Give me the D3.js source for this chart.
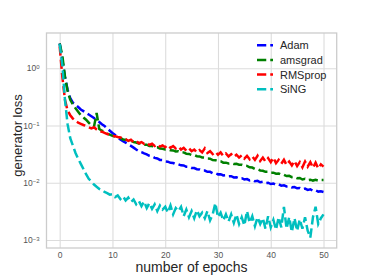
<!DOCTYPE html>
<html>
<head>
<meta charset="utf-8">
<script src="https://cdn.jsdelivr.net/npm/d3@7"></script>
<style>
  html, body { margin: 0; padding: 0; background: #fff; }
  svg { display: block; font-family: "Liberation Sans", Arial, sans-serif; }
</style>
</head>
<body>
<svg id="chart" width="374" height="280"></svg>
<script>
// ---- data ----
const epochs = d3.range(0, 50.001, 0.5);
const seriesNames = ["Adam", "amsgrad", "RMSprop", "SiNG"];
const seriesColors = ["#0000ff", "#008000", "#ff0000", "#00bfbf"];

const adam = [
  2.70, 1.40, 0.71, 0.42, 0.30, 0.25, 0.23, 0.21, 0.19, 0.178,
  0.166, 0.155, 0.145, 0.135, 0.123, 0.115, 0.105, 0.098, 0.089, 0.081,
  0.074, 0.068, 0.062, 0.057, 0.053, 0.050, 0.047, 0.044, 0.041, 0.038,
  0.0355, 0.0343, 0.0325, 0.0313, 0.0295, 0.0288, 0.0272, 0.0265, 0.0250, 0.0248,
  0.0235, 0.0233, 0.0223, 0.0221, 0.0210, 0.0209, 0.0201, 0.0200, 0.0190, 0.0189,
  0.0181, 0.0180, 0.0172, 0.0171, 0.0163, 0.0163, 0.0155, 0.0155, 0.0147, 0.0148,
  0.0140, 0.0141, 0.0134, 0.0135, 0.0129, 0.0130, 0.0124, 0.0125, 0.0119, 0.0120,
  0.0114, 0.0116, 0.0110, 0.0112, 0.0106, 0.0108, 0.0102, 0.0104, 0.0099, 0.0100,
  0.0095, 0.0097, 0.0092, 0.0094, 0.0089, 0.0090, 0.0086, 0.0087, 0.0083, 0.0084,
  0.0080, 0.0081, 0.0077, 0.0079, 0.0075, 0.0077, 0.0072, 0.0074, 0.0070, 0.0071,
  0.0069
];
const amsgrad = [
  2.70, 1.66, 0.71, 0.40, 0.28, 0.234, 0.20, 0.174, 0.151, 0.138,
  0.126, 0.112, 0.100, 0.095, 0.165, 0.087, 0.081, 0.078, 0.072, 0.069,
  0.066, 0.064, 0.0610, 0.0605, 0.0570, 0.0565, 0.0545, 0.0540, 0.0515, 0.0505,
  0.0485, 0.0484, 0.0462, 0.0462, 0.0438, 0.0437, 0.0418, 0.0416, 0.0395, 0.0393,
  0.0380, 0.0380, 0.0368, 0.0367, 0.0352, 0.0354, 0.0340, 0.0338, 0.0322, 0.0319,
  0.0306, 0.0305, 0.0290, 0.0288, 0.0277, 0.0275, 0.0264, 0.0263, 0.0249, 0.0248,
  0.0238, 0.0237, 0.0224, 0.0224, 0.0217, 0.0219, 0.0212, 0.0214, 0.0207, 0.0206,
  0.0198, 0.0197, 0.0186, 0.0184, 0.0174, 0.0172, 0.0164, 0.0162, 0.0155, 0.0155,
  0.0149, 0.0150, 0.0144, 0.0145, 0.0138, 0.0138, 0.0131, 0.0132, 0.0125, 0.0126,
  0.0120, 0.0121, 0.0114, 0.0117, 0.0111, 0.0113, 0.0109, 0.0112, 0.0109, 0.0112,
  0.0112
];
const rmsprop = [
  2.40, 0.71, 0.28, 0.182, 0.151, 0.132, 0.120, 0.112, 0.107, 0.102,
  0.098, 0.093, 0.089, 0.093, 0.085, 0.079, 0.078, 0.074, 0.071, 0.069,
  0.066, 0.0646, 0.063, 0.0617, 0.060, 0.0575, 0.0537, 0.0562, 0.0513, 0.0537,
  0.0490, 0.0513, 0.0479, 0.0501, 0.0457, 0.0479, 0.0437, 0.0468, 0.0427, 0.0447,
  0.0417, 0.0457, 0.0407, 0.0437, 0.0398, 0.0427, 0.0380, 0.0407, 0.0363, 0.0398,
  0.0355, 0.0380, 0.0339, 0.0372, 0.0339, 0.0398, 0.0331, 0.0355, 0.0316, 0.0347,
  0.0309, 0.0339, 0.0295, 0.0324, 0.0288, 0.0316, 0.0282, 0.0309, 0.0275, 0.0302,
  0.0263, 0.0295, 0.0257, 0.0288, 0.0251, 0.0295, 0.0240, 0.0275, 0.0234, 0.0269,
  0.0229, 0.0275, 0.0219, 0.0251, 0.0214, 0.0251, 0.0204, 0.0234, 0.0200, 0.0240,
  0.0195, 0.0229, 0.0186, 0.0234, 0.0191, 0.0229, 0.0182, 0.0224, 0.0178, 0.0209,
  0.0191
];
const sing = [
  2.63, 1.12, 0.28, 0.105, 0.060, 0.0447, 0.0331, 0.0263, 0.0214, 0.0174,
  0.0141, 0.0117, 0.0105, 0.0093, 0.0085, 0.0078, 0.0074, 0.0069, 0.0066, 0.0062,
  0.0063, 0.0056, 0.0060, 0.0052, 0.0058, 0.0049, 0.0055, 0.0046, 0.0051, 0.0042,
  0.0048, 0.0039, 0.0047, 0.0036, 0.0044, 0.0035, 0.0042, 0.0032, 0.0040, 0.0034,
  0.0038, 0.0030, 0.0040, 0.0028, 0.0036, 0.0032, 0.0038, 0.0026, 0.0034, 0.0025,
  0.0032, 0.0024, 0.0033, 0.0026, 0.0030, 0.0024, 0.0032, 0.0022, 0.0028, 0.0044,
  0.0025, 0.0030, 0.0022, 0.0028, 0.0021, 0.0028, 0.0020, 0.0028, 0.0019, 0.0025,
  0.0018, 0.0032, 0.0020, 0.0026, 0.00174, 0.0025, 0.0019, 0.0024, 0.00158, 0.0026,
  0.00166, 0.00224, 0.00151, 0.0025, 0.00166, 0.0038, 0.00158, 0.0025, 0.00138, 0.0024,
  0.00145, 0.0023, 0.00158, 0.0025, 0.00145, 0.0011, 0.0025, 0.0038, 0.0019, 0.0024,
  0.0028
];
const xTicks = [0, 10, 20, 30, 40, 50];
const yTicks = [1, 0.1, 0.01, 0.001];
const yTickExponents = ["0", "\u22121", "\u22122", "\u22123"];
const xLabel = "number of epochs";
const yLabel = "generator loss";

// ---- layout ----
const svg = d3.select("#chart");
const L = 46.5, R = 336.7, T = 33, B = 248;

const x = d3.scaleLinear().domain([-2.5, 52.5]).range([L, R]);
const y = d3.scaleLog().domain([Math.pow(10, -3.14), Math.pow(10, 0.615)]).range([B, T]);

const gridColor = "#dcdcdc";
const tickTextColor = "#555";

// x axis with gridlines
const gx = svg.append("g")
  .attr("transform", `translate(0,${B})`)
  .call(d3.axisBottom(x).tickValues(xTicks).tickSize(-(B - T)).tickPadding(4).tickFormat(d3.format("d")));
gx.select(".domain").remove();
gx.selectAll(".tick line").attr("stroke", gridColor).attr("stroke-width", 1.1);
gx.selectAll(".tick text").attr("fill", tickTextColor).style("font-size", "8.5px")
  .style("font-family", "'Liberation Sans', Arial, sans-serif");

// y axis with gridlines
const gy = svg.append("g")
  .attr("transform", `translate(${L},0)`)
  .call(d3.axisLeft(y).tickValues(yTicks).tickSize(-(R - L)).tickPadding(7).tickFormat(() => ""));
gy.select(".domain").remove();
gy.selectAll(".tick line").attr("stroke", gridColor).attr("stroke-width", 1.1);
gy.selectAll(".tick text").each(function(d, i) {
  const t = d3.select(this)
    .attr("fill", tickTextColor).style("font-size", "8.5px")
    .style("font-family", "'Liberation Sans', Arial, sans-serif");
  t.append("tspan").text("10");
  t.append("tspan").text(yTickExponents[i]).attr("dy", "-0.45em").style("font-size", "6px");
});

// frame
svg.append("rect")
  .attr("x", L).attr("y", T).attr("width", R - L).attr("height", B - T)
  .attr("fill", "none").attr("stroke", "#cccccc").attr("stroke-width", 1.3);

// clip
svg.append("clipPath").attr("id", "clip")
  .append("rect").attr("x", L).attr("y", T).attr("width", R - L).attr("height", B - T);

const allSeries = [adam, amsgrad, rmsprop, sing];
const line = d3.line()
  .x((d, i) => x(epochs[i]))
  .y(d => y(d));

const lw = 2.5;
const dash = `${3.7 * lw},${1.6 * lw}`;

const plotG = svg.append("g").attr("clip-path", "url(#clip)");
allSeries.forEach((s, k) => {
  plotG.append("path")
    .datum(s)
    .attr("d", line)
    .attr("fill", "none")
    .attr("stroke", seriesColors[k])
    .attr("stroke-width", lw)
    .attr("stroke-dasharray", dash);
});

// legend
const legY = [45.3, 60, 74.6, 89.3];
seriesNames.forEach((name, k) => {
  svg.append("line")
    .attr("x1", 257).attr("x2", 273)
    .attr("y1", legY[k]).attr("y2", legY[k])
    .attr("stroke", seriesColors[k]).attr("stroke-width", lw)
    .attr("stroke-dasharray", dash);
  svg.append("text")
    .attr("x", 280).attr("y", legY[k]).attr("dy", "0.36em")
    .attr("fill", "#262626").style("font-size", "11px")
    .text(name);
});

// axis labels
svg.append("text")
  .attr("x", (L + R) / 2).attr("y", 272)
  .attr("text-anchor", "middle")
  .attr("fill", "#262626").style("font-size", "14px")
  .text(xLabel);
svg.append("text")
  .attr("transform", `translate(22,${(T + B) / 2 - 5}) rotate(-90)`)
  .attr("text-anchor", "middle")
  .attr("fill", "#262626").style("font-size", "13px")
  .text(yLabel);
</script>
</body>
</html>
